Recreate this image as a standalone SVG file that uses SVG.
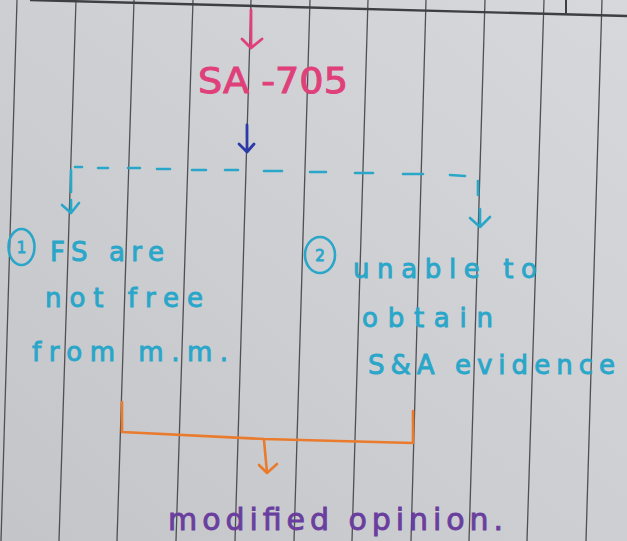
<svg xmlns="http://www.w3.org/2000/svg" width="627" height="541" viewBox="0 0 627 541">
  <defs>
    <linearGradient id="paper" x1="1" y1="0" x2="0" y2="1">
      <stop offset="0" stop-color="#d6d8dc"/>
      <stop offset="0.5" stop-color="#cdcfd3"/>
      <stop offset="1" stop-color="#c3c5c9"/>
    </linearGradient>
    <style>
      .rule { stroke: #4f5052; stroke-width: 1.3; fill: none; }
      .pink { fill: #e0407a; stroke: #e0407a; stroke-width: 1; }
      .cyan { fill: #2aa6c9; }
      .cyan text { stroke: #2aa6c9; stroke-width: 0.9; }
      .hand { font-family: "DejaVu Sans", "Noto Sans", sans-serif; }
      .cy-line { stroke: #2aa6c9; stroke-width: 2.6; fill: none; stroke-linecap: round; stroke-linejoin: round; }
      .or-line { stroke: #ea7b2c; stroke-width: 2.6; fill: none; stroke-linecap: round; stroke-linejoin: round; }
    </style>
  </defs>

  <!-- paper -->
  <rect x="0" y="0" width="627" height="541" fill="url(#paper)"/>
  <g id="paper-rules">
    <line class="rule" x1="17" y1="0" x2="1" y2="541"/>
    <line class="rule" x1="76" y1="0" x2="59" y2="541"/>
    <line class="rule" x1="134" y1="0" x2="117" y2="541"/>
    <line class="rule" x1="193" y1="0" x2="176" y2="541"/>
    <line class="rule" x1="251" y1="0" x2="235" y2="541"/>
    <line class="rule" x1="310" y1="0" x2="294" y2="541"/>
    <line class="rule" x1="368" y1="0" x2="352" y2="541"/>
    <line class="rule" x1="426" y1="0" x2="411" y2="541"/>
    <line class="rule" x1="485" y1="0" x2="469" y2="541"/>
    <line class="rule" x1="544" y1="0" x2="527" y2="541"/>
    <line class="rule" x1="602" y1="0" x2="586" y2="541"/>
    <line x1="30" y1="0" x2="627" y2="16" stroke="#3e3f41" stroke-width="2.4"/>
    <line x1="566" y1="0" x2="566" y2="14" stroke="#3e3f41" stroke-width="2"/>
  </g>

  <!-- nodes -->
  <g id="sa705">
    <text class="hand pink" x="198" y="93" font-size="36" textLength="150" lengthAdjust="spacingAndGlyphs">SA -705</text>
  </g>

  <g id="case1" class="hand cyan">
    <ellipse cx="21.5" cy="247" rx="13" ry="18" fill="none" stroke="#2aa6c9" stroke-width="2.6"/>
    <text x="21.5" y="253" font-size="15" text-anchor="middle">1</text>
    <text x="50" y="261" font-size="26" textLength="114" lengthAdjust="spacing">FS are</text>
    <text x="45" y="307" font-size="26" textLength="158" lengthAdjust="spacing">not free</text>
    <text x="32" y="361" font-size="26" textLength="196" lengthAdjust="spacing">from m.m.</text>
  </g>

  <g id="case2" class="hand cyan">
    <ellipse cx="320" cy="255" rx="15" ry="18" fill="none" stroke="#2aa6c9" stroke-width="2.6"/>
    <text x="320" y="261" font-size="15" text-anchor="middle">2</text>
    <text x="353" y="278" font-size="26" textLength="184" lengthAdjust="spacing">unable to</text>
    <text x="362" y="327" font-size="26" textLength="131" lengthAdjust="spacing">obtain</text>
    <text x="368" y="374" font-size="26" textLength="247" lengthAdjust="spacing">S&amp;A evidence</text>
  </g>

  <g id="result">
    <text class="hand" x="168" y="530" font-size="30" fill="#6a3e9e" stroke="#6a3e9e" stroke-width="0.9" textLength="335" lengthAdjust="spacing">modified opinion.</text>
  </g>

  <!-- connectors -->
  <g id="connectors">
    <!-- pink arrow into SA-705 -->
    <path d="M251 10 L251 48 M242 39 L251 48 L262 39" stroke="#e0407a" stroke-width="2.8" fill="none" stroke-linecap="round" stroke-linejoin="round"/>
    <!-- blue arrow out of SA-705 -->
    <path d="M247 125 L247 152 M239 144 L247 152 L254 144" stroke="#2c3aa8" stroke-width="2.8" fill="none" stroke-linecap="round" stroke-linejoin="round"/>
    <!-- dashed split line -->
    <path class="cy-line" d="M75 167 L82 167 M98 168 L108 168 M128 168 L140 168 M157 169 L170 169 M192 170 L206 170 M225 170 L238 170 M264 171 L282 171 M310 172 L326 172 M355 173 L373 173 M403 174 L423 174 M450 175 L465 176"/>
    <path class="cy-line" d="M71 170 L71 192"/>
    <path class="cy-line" d="M478 181 L478 195"/>
    <!-- arrows down to cases -->
    <path class="cy-line" d="M71 200 L71 213 M62 205 L71 213 L79 203" stroke-width="2"/>
    <path class="cy-line" d="M480 209 L480 227 M470 218 L480 227 L490 217" stroke-width="2"/>
    <!-- orange bracket joining cases -->
    <path class="or-line" d="M122 402 L122 432 L264 439 L413 443 L413 411"/>
    <path class="or-line" d="M264 440 L267 473 M259 465 L267 473 L277 464"/>
  </g>
</svg>
